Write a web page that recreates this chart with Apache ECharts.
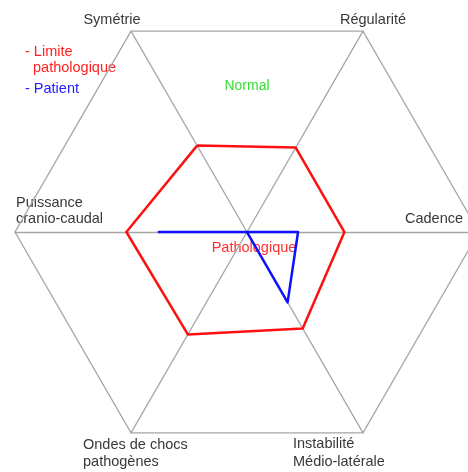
<!DOCTYPE html>
<html>
<head>
<meta charset="utf-8">
<script src="https://cdn.jsdelivr.net/npm/echarts@6/dist/echarts.min.js"></script>
<style>
html,body{margin:0;padding:0;background:#fff;}
#chart{width:468px;height:472px;}
</style>
</head>
<body>
<div id="chart"></div>
<script>
// Indicators in ECharts order (counterclockwise from the top-left spoke)
const indicatorNames = ["Symétrie", "Puissance cranio-caudal", "Ondes de chocs pathogènes", "Instabilité Médio-latérale", "Cadence", "Régularité"];
const indicatorMax = 100;
const limiteValues = [43, 52, 51, 48, 42, 42];
const patientValues = [0, 38, 0, 35, 22, 0];
const seriesNames = ["Limite pathologique", "Patient"];

const FONT = '"Liberation Sans", Arial, sans-serif';
const labelColor = '#383838';

function txt(text, x, y, color, align, size) {
  return {
    type: 'text', x: x, y: y,
    style: { text: text, fill: color, font: (size || 14.5) + 'px ' + FONT, textAlign: align || 'left', textVerticalAlign: 'middle' },
    silent: true
  };
}

const chart = echarts.init(document.getElementById('chart'), null, { renderer: 'canvas' });
chart.setOption({
  animation: false,
  backgroundColor: '#ffffff',
  radar: {
    center: [247, 232],
    radius: 232,
    startAngle: 120,
    shape: 'polygon',
    splitNumber: 1,
    indicator: indicatorNames.map(n => ({ name: n, max: indicatorMax })),
    axisName: { show: false },
    axisLine: { lineStyle: { color: '#a6a6a6', width: 1.3 } },
    splitLine: { lineStyle: { color: '#a6a6a6', width: 1.3 } },
    splitArea: { show: false },
    axisTick: { show: false },
    axisLabel: { show: false }
  },
  series: [{
    type: 'radar',
    symbol: 'none',
    data: [
      { name: seriesNames[0], value: limiteValues, lineStyle: { color: '#ff1010', width: 2.5 } },
      { name: seriesNames[1], value: patientValues, lineStyle: { color: '#1010ff', width: 2.5 } }
    ]
  }],
  graphic: [
    txt('Symétrie', 112, 20, labelColor, 'center'),
    txt('Régularité', 373, 20, labelColor, 'center'),
    txt('Cadence', 405, 219, labelColor, 'left'),
    txt('Puissance', 16, 203, labelColor, 'left'),
    txt('cranio-caudal', 16, 219, labelColor, 'left'),
    txt('Ondes de chocs', 83, 445, labelColor, 'left'),
    txt('pathogènes', 83, 462, labelColor, 'left'),
    txt('Instabilité', 293, 444, labelColor, 'left'),
    txt('Médio-latérale', 293, 462, labelColor, 'left'),
    txt('- Limite', 25, 52, '#ff2020', 'left'),
    txt('pathologique', 33, 68, '#ff2020', 'left'),
    txt('- Patient', 25, 89, '#2020ff', 'left'),
    txt('Normal', 247, 86, '#33dd33', 'center', 14),
    txt('Pathologique', 254, 248, '#ff3030', 'center')
  ]
});
</script>
</body>
</html>
